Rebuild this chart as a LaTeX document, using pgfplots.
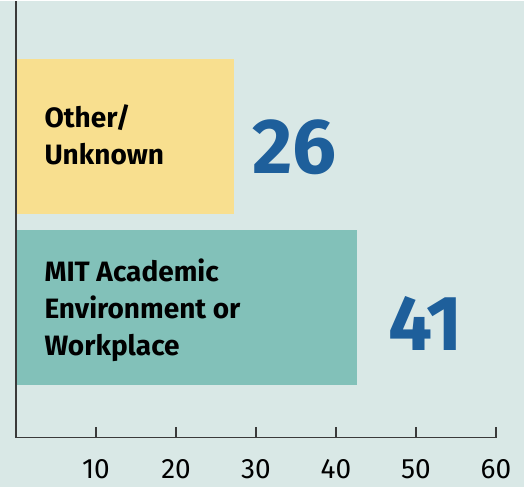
\documentclass[border=0pt]{standalone}
\usepackage{fontspec}
\setmainfont{Fira Sans}
\usepackage{pgfplots}
\pgfplotsset{compat=1.18}

\definecolor{bgc}{HTML}{D9E8E6}
\definecolor{yellowc}{HTML}{F8DF8F}
\definecolor{tealc}{HTML}{82C1B9}
\definecolor{bluec}{HTML}{1E5F9B}
\definecolor{axc}{HTML}{3A3A3A}

\begin{document}
\begin{tikzpicture}
\begin{axis}[
    set layers, axis on top,
    scale only axis,
    width=480pt, height=437pt,
    xmin=0, xmax=60,
    ymin=0.242, ymax=2.79,
    axis x line=bottom, axis y line=left,
    axis line style={-, draw=axc, line width=1.3pt},
    ytick=\empty,
    xtick={0,10,20,30,40,50,60},
    xticklabels={,10,20,30,40,50,60},
    tick align=inside,
    major tick length=11pt,
    major tick style={draw=axc, line width=1.3pt},
    xticklabel style={font=\fontsize{28}{28}\selectfont, inner sep=0pt, anchor=north, yshift=-22pt},
    /pgf/number format/assume math mode=true,
    clip=false,
]
    % background of the whole picture
    \begin{pgfonlayer}{axis background}
    \fill[bgc] (rel axis cs:-0.0333,-0.1121) rectangle (rel axis cs:1.0583,1);
    \end{pgfonlayer}

    % bars
    \addplot[xbar, bar width=0.904, bar shift=0pt, fill=yellowc, draw=none] coordinates {(27.2,2)};
    \addplot[xbar, bar width=0.904, bar shift=0pt, fill=tealc, draw=none] coordinates {(42.6,1)};

    % labels inside the bars
    \node[anchor=west, xshift=25pt, yshift=1pt, align=left, font=\bfseries\fontsize{28}{37}\selectfont]
        at (axis cs:0,2) {Other/\\Unknown};
    \node[anchor=west, xshift=25pt, yshift=-3pt, align=left, font=\bfseries\fontsize{28}{37}\selectfont]
        at (axis cs:0,1) {MIT Academic\\Environment or\\Workplace};

    % big values
    \node[font=\bfseries\fontsize{78}{78}\selectfont, text=bluec, yshift=-11pt]
        at (axis cs:34.8,2) {26};
    \node[font=\bfseries\fontsize{78}{78}\selectfont, text=bluec, yshift=-16pt]
        at (axis cs:51.2,1) {41};
\end{axis}
\end{tikzpicture}
\end{document}
